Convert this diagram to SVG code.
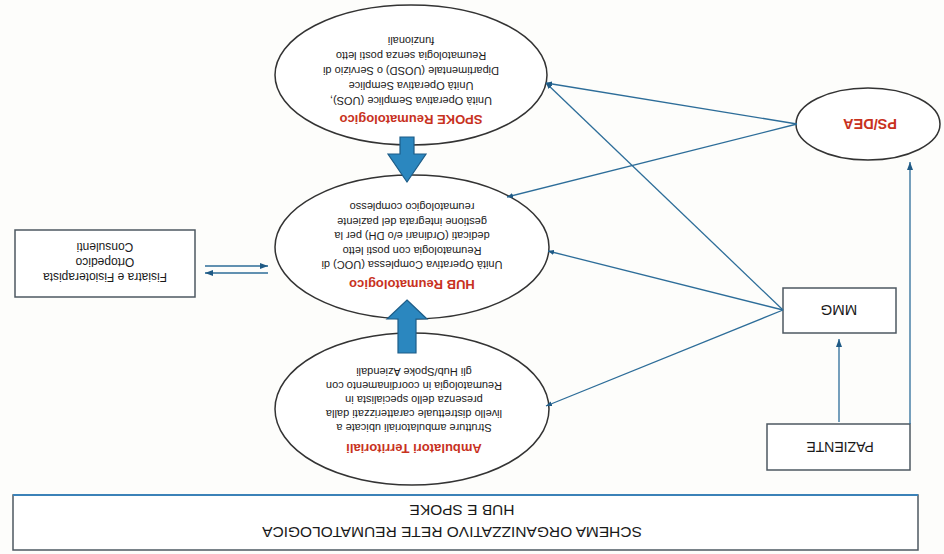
<svg xmlns="http://www.w3.org/2000/svg" width="944" height="554" viewBox="0 0 944 554">
<style>
text{font-family:"Liberation Sans",Arial,sans-serif;text-anchor:middle;dominant-baseline:central;fill:#1a1a1a}
.t{font-size:11px}
.h{font-size:13px;font-weight:bold;fill:#c8321e}
.box{fill:#fff;stroke:#4d5862;stroke-width:1.5}
.ell{fill:#fff;stroke:#333;stroke-width:1.5}
.ln{fill:none;stroke:#2d6d99;stroke-width:1.3}
.blk{fill:#2b87bf;stroke:#1d5d88;stroke-width:1.2}
</style>
<defs>
<marker id="a" markerUnits="userSpaceOnUse" markerWidth="8" markerHeight="6" refX="8" refY="3" orient="auto"><path d="M0,0L8,3L0,6z" fill="#1f5a85"/></marker>
<marker id="s" markerUnits="userSpaceOnUse" markerWidth="6" markerHeight="5" refX="6" refY="2.5" orient="auto"><path d="M0,0L6,2.5L0,5z" fill="#1f5a85"/></marker>
</defs>
<rect width="944" height="554" fill="#fdfdfb"/>
<g id="title">
<rect class="box" x="13" y="495" width="905" height="55"/>
<line x1="13" y1="495" x2="918" y2="495" stroke="#3b82b8" stroke-width="2.2"/>
<text x="462" y="510" font-size="15.5" transform="rotate(180 462 510)">HUB E SPOKE</text>
<text x="452" y="532" font-size="15.5" transform="rotate(180 452 532)">SCHEMA ORGANIZZATIVO RETE REUMATOLOGICA</text>
</g>
<g id="spoke">
<ellipse class="ell" cx="411" cy="75" rx="136" ry="70"/>
<text class="h" x="411" y="119" transform="rotate(180 411 119)">SPOKE Reumatologico</text>
<text class="t" x="411" y="101" transform="rotate(180 411 101)">Unità Operativa Semplice (UOS),</text>
<text class="t" x="411" y="86" transform="rotate(180 411 86)">Unità Operativa Semplice</text>
<text class="t" x="411" y="71" transform="rotate(180 411 71)">Dipartimentale (UOSD) o Servizio di</text>
<text class="t" x="411" y="56" transform="rotate(180 411 56)">Reumatologia senza posti letto</text>
<text class="t" x="411" y="41" transform="rotate(180 411 41)">funzionali</text>
</g>
<g id="hub">
<ellipse class="ell" cx="412" cy="247" rx="137" ry="72"/>
<text class="h" x="412" y="284" transform="rotate(180 412 284)">HUB Reumatologico</text>
<text class="t" x="412" y="265" transform="rotate(180 412 265)">Unità Operativa Complessa (UOC) di</text>
<text class="t" x="412" y="250.5" transform="rotate(180 412 250.5)">Reumatologia con posti letto</text>
<text class="t" x="412" y="236" transform="rotate(180 412 236)">dedicati (Ordinari e/o DH) per la</text>
<text class="t" x="412" y="221.5" transform="rotate(180 412 221.5)">gestione integrata del paziente</text>
<text class="t" x="412" y="207" transform="rotate(180 412 207)">reumatologico complesso</text>
</g>
<g id="ambulatori">
<ellipse class="ell" cx="412" cy="409" rx="137" ry="76"/>
<text class="h" x="414" y="448" transform="rotate(180 414 448)">Ambulatori Territoriali</text>
<text class="t" x="414" y="428" transform="rotate(180 414 428)">Strutture ambulatoriali ubicate a</text>
<text class="t" x="414" y="414" transform="rotate(180 414 414)">livello distrettuale caratterizzati dalla</text>
<text class="t" x="414" y="400" transform="rotate(180 414 400)">presenza dello specialista in</text>
<text class="t" x="414" y="386" transform="rotate(180 414 386)">Reumatologia in coordinamento con</text>
<text class="t" x="414" y="372" transform="rotate(180 414 372)">gli Hub/Spoke Aziendali</text>
</g>
<g id="consulenti">
<rect class="box" x="15" y="230" width="180" height="67"/>
<text font-size="12" x="105" y="277" transform="rotate(180 105 277)">Fisiatra e Fisioterapista</text>
<text font-size="12" x="105" y="262" transform="rotate(180 105 262)">Ortopedico</text>
<text font-size="12" x="105" y="247" transform="rotate(180 105 247)">Consulenti</text>
</g>
<g id="psdea">
<ellipse class="ell" cx="868" cy="124" rx="72" ry="36"/>
<text class="h" x="870" y="124" font-size="14.5" style="font-size:14.5px" transform="rotate(180 870 124)">PS/DEA</text>
</g>
<g id="mmg">
<rect class="box" x="783" y="288" width="113" height="45"/>
<text x="839" y="310" font-size="15" transform="rotate(180 839 310)">MMG</text>
</g>
<g id="paziente">
<rect class="box" x="767" y="424" width="143" height="46"/>
<text x="840" y="447" font-size="14" transform="rotate(180 840 447)">PAZIENTE</text>
</g>
<g id="connectors">
<line class="ln" x1="783" y1="310" x2="546" y2="83" marker-end="url(#s)"/>
<line class="ln" x1="783" y1="310" x2="548" y2="251" marker-end="url(#s)"/>
<line class="ln" x1="783" y1="310" x2="546" y2="406" marker-end="url(#s)"/>
<line class="ln" x1="797" y1="124" x2="546" y2="83" marker-end="url(#s)"/>
<line class="ln" x1="797" y1="124" x2="507" y2="197" marker-end="url(#s)"/>
<line class="ln" x1="839" y1="422" x2="839" y2="339" marker-end="url(#a)"/>
<line class="ln" x1="910" y1="424" x2="910" y2="162" marker-end="url(#a)"/>
<line class="ln" x1="205" y1="266" x2="268" y2="266" marker-end="url(#a)"/>
<line class="ln" x1="268" y1="273" x2="205" y2="273" marker-end="url(#a)"/>
<polygon class="blk" points="400,137 414,137 414,154 426,154 407,182 388,154 400,154"/>
<polygon class="blk" points="407,300 427,319 416,319 416,353 398,353 398,319 387,319"/>
</g>
</svg>
